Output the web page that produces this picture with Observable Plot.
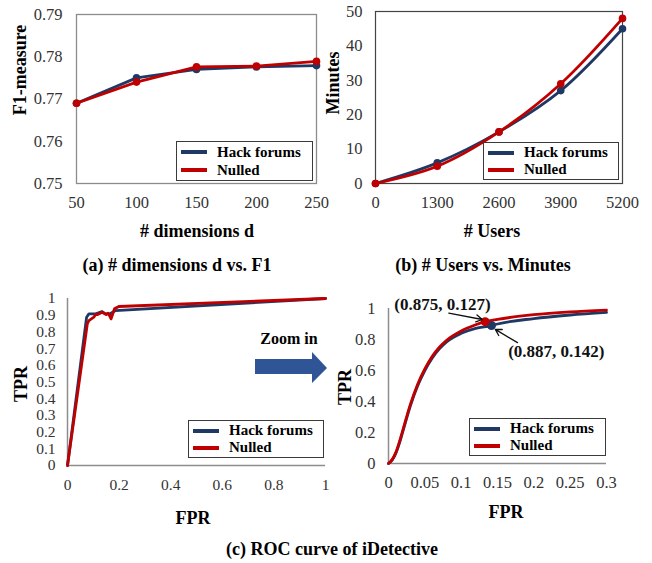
<!DOCTYPE html>
<html>
<head>
<meta charset="utf-8">
<script src="https://cdn.jsdelivr.net/npm/d3@7"></script>
<script src="https://cdn.jsdelivr.net/npm/@observablehq/plot@0.6"></script>
<style>
  body { margin: 0; background: #fff; }
  #root { position: relative; width: 652px; height: 563px; font-family: "Liberation Serif", "Times New Roman", serif; overflow: hidden; }
  #root > svg { position: absolute; }
  .t { position: absolute; transform: translate(-50%, -50%); white-space: nowrap; font-weight: bold; color: #000; line-height: 1; }
  .leg { position: absolute; border: 1px solid #3a3a3a; background: #fff; box-sizing: border-box; padding: 1px 0; }
  .row { display: flex; align-items: center; height: 50%; font-weight: bold; font-size: 15px; color: #000; }
  .sw { display: inline-block; width: 26px; height: 4px; margin: 0 10px 0 4px; }
</style>
</head>
<body>
<div id="root"></div>
<script>
// ---------- data ----------
const series = ["Hack forums", "Nulled"];
const colors = ["#203864", "#C00000"];

// (a) # dimensions d vs. F1
const dims = [50, 100, 150, 200, 250];
const f1Hack = [0.769, 0.775, 0.777, 0.7776, 0.7779];
const f1Nulled = [0.769, 0.774, 0.7776, 0.7778, 0.7789];
const f1Ticks = [0.75, 0.76, 0.77, 0.78, 0.79];

// (b) # Users vs. Minutes
const users = [0, 1300, 2600, 3900, 5200];
const minHack = [0, 6, 15, 27, 45];
const minNulled = [0, 5, 15, 29, 48];
const minTicks = [0, 10, 20, 30, 40, 50];

// (c) ROC curve – full range
const rocFprHack = [0, 0.074, 0.083, 0.109, 0.134, 0.147, 0.167, 0.186, 1];
const rocTprHack = [0, 0.888, 0.908, 0.908, 0.922, 0.908, 0.910, 0.928, 1];
const rocFprNulled = [0, 0.077, 0.083, 0.102, 0.109, 0.117, 0.134, 0.150, 0.158, 0.169, 0.182, 0.199, 1];
const rocTprNulled = [0, 0.850, 0.868, 0.888, 0.904, 0.904, 0.918, 0.904, 0.912, 0.878, 0.938, 0.952, 1];
const rocXTicks = [0, 0.2, 0.4, 0.6, 0.8, 1];
const rocYTicks = [0, 0.1, 0.2, 0.3, 0.4, 0.5, 0.6, 0.7, 0.8, 0.9, 1];

// (c) ROC curve – zoom in
const zFprHack = [0, 0.005, 0.01, 0.015, 0.02, 0.03, 0.04, 0.05, 0.06, 0.07, 0.08, 0.1, 0.12, 0.142, 0.15, 0.2, 0.25, 0.3];
const zTprHack = [0, 0.022, 0.065, 0.13, 0.21, 0.37, 0.50, 0.60, 0.68, 0.74, 0.785, 0.84, 0.872, 0.89, 0.90, 0.935, 0.958, 0.975];
const zFprNulled = [0, 0.005, 0.01, 0.015, 0.02, 0.03, 0.04, 0.05, 0.06, 0.07, 0.08, 0.1, 0.12, 0.133, 0.15, 0.2, 0.25, 0.3];
const zTprNulled = [0, 0.025, 0.07, 0.14, 0.22, 0.38, 0.51, 0.61, 0.69, 0.75, 0.795, 0.855, 0.895, 0.915, 0.93, 0.96, 0.978, 0.99];
const zXTicks = [0, 0.05, 0.1, 0.15, 0.2, 0.25, 0.3];
const zYTicks = [0, 0.2, 0.4, 0.6, 0.8, 1];
const markFpr = [0.1417, 0.133];          // Hack forums, Nulled
const markTpr = [0.890, 0.915];
const annoText = ["(0.875, 0.127)", "(0.887, 0.142)"];
const annoTextFpr = [0.0743, 0.231];
const annoTextTpr = [1.026, 0.723];
const annoFromFpr = [0.083, 0.1775];
const annoFromTpr = [0.970, 0.780];
const annoToFpr = [0.129, 0.147];
const annoToTpr = [0.929, 0.865];

// ---------- helpers ----------
const root = document.getElementById("root");
const font = "Liberation Serif, Times New Roman, serif";
const toRows = (xs, ys) => xs.map((x, j) => ({x, y: ys[j]}));
const plain = d => String(d);

function mount(svg, left, top) {
  svg.style.left = left + "px";
  svg.style.top = top + "px";
  svg.style.background = "transparent";
  root.appendChild(svg);
}
function text(str, cx, cy, size, rotate) {
  const d = document.createElement("div");
  d.className = "t";
  d.textContent = str;
  d.style.fontSize = size + "px";
  d.style.left = cx + "px";
  d.style.top = cy + "px";
  if (rotate) d.style.transform = "translate(-50%, -50%) rotate(-90deg)";
  root.appendChild(d);
}
function legend(x, y, w, h) {
  const box = document.createElement("div");
  box.className = "leg";
  Object.assign(box.style, {left: x + "px", top: y + "px", width: w + "px", height: h + "px"});
  series.forEach((s, i) => {
    const row = document.createElement("div");
    row.className = "row";
    const sw = document.createElement("span");
    sw.className = "sw";
    sw.style.background = colors[i];
    const tx = document.createElement("span");
    tx.textContent = s;
    row.append(sw, tx);
    box.append(row);
  });
  root.appendChild(box);
}
const baseStyle = size => ({fontFamily: font, fontSize: size + "px", color: "#333", background: "transparent"});

// ---------- (a) ----------
const dataA = [toRows(dims, f1Hack), toRows(dims, f1Nulled)];
mount(Plot.plot({
  width: 330, height: 215,
  marginLeft: 76, marginRight: 14, marginTop: 14, marginBottom: 32,
  style: baseStyle(16.5),
  x: {domain: [50, 250], ticks: dims, tickFormat: plain, tickSize: 0, tickPadding: 13, label: null},
  y: {domain: [0.75, 0.79], ticks: f1Ticks, tickFormat: d3.format(".2f"), tickSize: 0, tickPadding: 14, label: null},
  marks: [
    Plot.frame({stroke: "#8c8c8c", strokeWidth: 1.3}),
    ...dataA.flatMap((d, i) => [
      Plot.line(d, {x: "x", y: "y", stroke: colors[i], strokeWidth: 2.8}),
      Plot.dot(d, {x: "x", y: "y", fill: colors[i], r: 3.8})
    ])
  ]
}), 0, 0);

// ---------- (b) ----------
const dataB = [toRows(users, minHack), toRows(users, minNulled)];
mount(Plot.plot({
  width: 322, height: 215,
  marginLeft: 45, marginRight: 30, marginTop: 11, marginBottom: 32,
  style: baseStyle(16.5),
  x: {domain: [0, 5200], ticks: users, tickFormat: plain, tickSize: 0, tickPadding: 13, label: null},
  y: {domain: [0, 50], ticks: minTicks, tickFormat: plain, tickSize: 0, tickPadding: 13, label: null},
  marks: [
    Plot.frame({stroke: "#444", strokeWidth: 1.2}),
    ...dataB.flatMap((d, i) => [
      Plot.line(d, {x: "x", y: "y", stroke: colors[i], strokeWidth: 2.8, curve: "catmull-rom"}),
      Plot.dot(d, {x: "x", y: "y", fill: colors[i], r: 3.8})
    ])
  ]
}), 330, 0);

// ---------- (c) left ----------
const dataC = [toRows(rocFprHack, rocTprHack), toRows(rocFprNulled, rocTprNulled)];
mount(Plot.plot({
  width: 340, height: 215,
  marginLeft: 67, marginRight: 15, marginTop: 18, marginBottom: 30,
  style: baseStyle(15.5),
  x: {domain: [0, 1], ticks: rocXTicks, tickFormat: plain, tickSize: 0, tickPadding: 13, label: null},
  y: {domain: [0, 1], ticks: rocYTicks, tickFormat: plain, tickSize: 0, tickPadding: 12, label: null},
  marks: [
    Plot.ruleX([0], {stroke: "#8c8c8c", strokeWidth: 1.5}),
    Plot.ruleY([0], {stroke: "#8c8c8c", strokeWidth: 1.5}),
    ...dataC.map((d, i) => Plot.line(d, {x: "x", y: "y", stroke: colors[i], strokeWidth: 2.8}))
  ]
}), 0, 280);

// ---------- (c) right ----------
const dataZ = [toRows(zFprHack, zTprHack), toRows(zFprNulled, zTprNulled)];
const annos = annoText.map((t, i) => ({t, tx: annoTextFpr[i], ty: annoTextTpr[i], x1: annoFromFpr[i], y1: annoFromTpr[i], x2: annoToFpr[i], y2: annoToTpr[i]}));
const marksZ = series.map((s, i) => ({x: markFpr[i], y: markTpr[i], i}));
mount(Plot.plot({
  width: 322, height: 215,
  marginLeft: 58, marginRight: 46, marginTop: 28, marginBottom: 32,
  style: baseStyle(16.5),
  x: {domain: [0, 0.3], ticks: zXTicks, tickFormat: plain, tickSize: 0, tickPadding: 13, label: null},
  y: {domain: [0, 1], ticks: zYTicks, tickFormat: plain, tickSize: 0, tickPadding: 13, label: null},
  marks: [
    Plot.ruleX([0], {stroke: "#8c8c8c", strokeWidth: 1.5}),
    Plot.ruleY([0], {stroke: "#8c8c8c", strokeWidth: 1.5}),
    ...dataZ.map((d, i) => Plot.line(d, {x: "x", y: "y", stroke: colors[i], strokeWidth: 2.8, curve: "monotone-x"})),
    Plot.dot(marksZ, {x: "x", y: "y", fill: d => colors[d.i], r: 4.5}),
    Plot.arrow(annos, {x1: "x1", y1: "y1", x2: "x2", y2: "y2", stroke: "#111", strokeWidth: 1.3, headLength: 8}),
    Plot.text(annos, {x: "tx", y: "ty", text: "t", fontWeight: "bold", fontSize: 17, fill: "#111"})
  ]
}), 330, 280);

// ---------- titles, captions, legends ----------
text("F1-measure", 20, 70, 18, true);
text("# dimensions d", 197, 231, 18);
text("(a) # dimensions d vs. F1", 177, 265, 18);

text("Minutes", 333, 83, 18, true);
text("# Users", 492, 231, 18);
text("(b) # Users vs. Minutes", 483, 265, 18);

text("TPR", 21, 384, 18, true);
text("FPR", 193, 518, 18);
text("TPR", 345, 387, 18, true);
text("FPR", 506, 512, 18);
text("(c) ROC curve of iDetective", 332, 549, 18);

text("Zoom in", 289, 339, 16);
const arrow = d3.create("svg").attr("width", 76).attr("height", 34);
arrow.append("path").attr("d", "M1,8H58V1L73,17L58,32V23H1Z").attr("fill", "#2F5597");
mount(arrow.node(), 254, 351);

legend(176, 141, 137, 40);
legend(483, 142, 136, 38);
legend(188, 420, 136, 38);
legend(469, 418, 137, 38);
</script>
</body>
</html>
